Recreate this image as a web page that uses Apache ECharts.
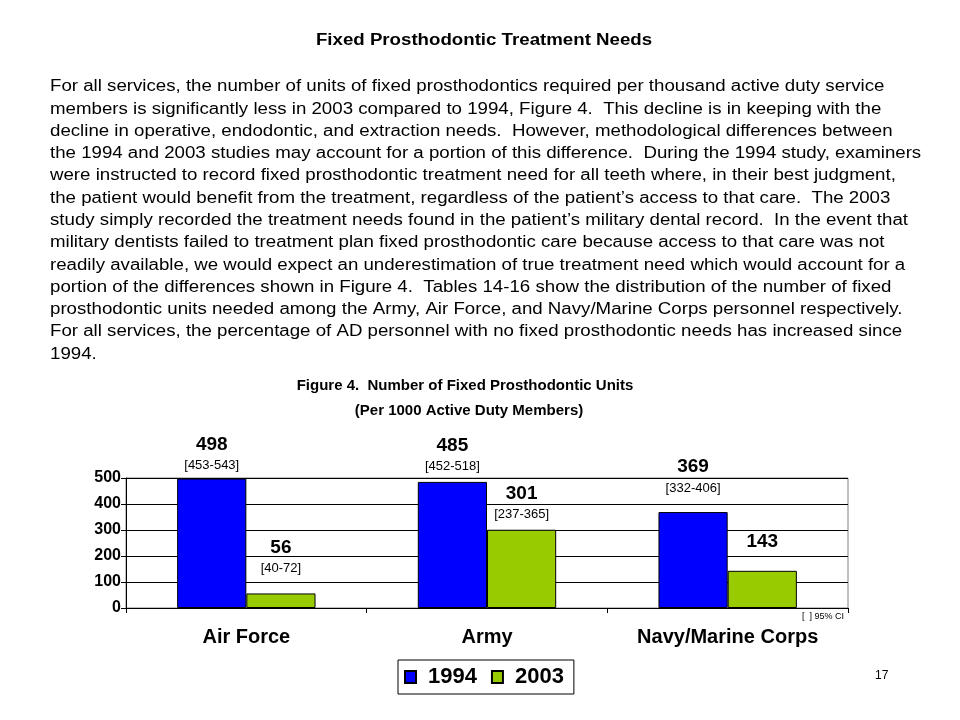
<!DOCTYPE html>
<html>
<head>
<meta charset="utf-8">
<script src="https://cdn.jsdelivr.net/npm/echarts@6/dist/echarts.min.js"></script>
<style>
html,body{margin:0;padding:0;background:#fff;}
#chart{width:960px;height:720px;}
</style>
</head>
<body>
<div id="chart"></div>
<script>
const categories = ['Air Force', 'Army', 'Navy/Marine Corps'];
const seriesNames = ['1994', '2003'];
const values1994 = [498, 485, 369];
const values2003 = [56, 301, 143];
const ci1994 = ['[453-543]', '[452-518]', '[332-406]'];
const ci2003 = ['[40-72]', '[237-365]', ''];
const yTicks = [0, 100, 200, 300, 400, 500];

const heading = 'Fixed Prosthodontic Treatment Needs';
const paragraph = [
  'For all services, the number of units of fixed prosthodontics required per thousand active duty service',
  'members is significantly less in 2003 compared to 1994, Figure 4.  This decline is in keeping with the',
  'decline in operative, endodontic, and extraction needs.  However, methodological differences between',
  'the 1994 and 2003 studies may account for a portion of this difference.  During the 1994 study, examiners',
  'were instructed to record fixed prosthodontic treatment need for all teeth where, in their best judgment,',
  'the patient would benefit from the treatment, regardless of the patient\u2019s access to that care.  The 2003',
  'study simply recorded the treatment needs found in the patient\u2019s military dental record.  In the event that',
  'military dentists failed to treatment plan fixed prosthodontic care because access to that care was not',
  'readily available, we would expect an underestimation of true treatment need which would account for a',
  'portion of the differences shown in Figure 4.  Tables 14-16 show the distribution of the number of fixed',
  'prosthodontic units needed among the Army, Air Force, and Navy/Marine Corps personnel respectively.',
  'For all services, the percentage of AD personnel with no fixed prosthodontic needs has increased since',
  '1994.'
];
const figTitle = 'Figure 4.  Number of Fixed Prosthodontic Units';
const figSubtitle = '(Per 1000 Active Duty Members)';
const ciNote = '[  ] 95% CI';
const pageNumber = '17';

// layout only: label lift above each bar (px)
const lift1994 = [5, 7, 16];
const lift2003 = [17, 7, 16];

const FONT = 'Liberation Sans, Arial, sans-serif';
const TEXT_STRETCH = 1.167;

function buildData(vals, cis, lifts) {
  return vals.map((v, i) => ({
    value: v,
    ci: cis[i],
    label: { distance: lifts[i] }
  }));
}

const labelCfg = {
  show: true,
  position: 'top',
  formatter: p => p.data.ci ? '{v|' + p.value + '}\n{c|' + p.data.ci + '}' : '{v|' + p.value + '}',
  rich: {
    v: { fontFamily: FONT, fontSize: 19, fontWeight: 'bold', color: '#000', lineHeight: 26, align: 'center' },
    c: { fontFamily: FONT, fontSize: 13, color: '#000', lineHeight: 16, align: 'center' }
  }
};

const graphics = [];
graphics.push({
  type: 'text', x: 484, y: 41, scaleX: TEXT_STRETCH,
  style: { text: heading, fontFamily: FONT, fontSize: 16, fontWeight: 'bold', fill: '#000',
           align: 'center', verticalAlign: 'middle' }
});
paragraph.forEach((line, i) => {
  graphics.push({
    type: 'text', x: 50, y: 87 + i * 22.27, scaleX: TEXT_STRETCH,
    style: { text: line, fontFamily: FONT, fontSize: 16, fill: '#000',
             align: 'left', verticalAlign: 'middle' }
  });
});
graphics.push({
  type: 'text', right: 116, top: 612,
  style: { text: ciNote, fontFamily: FONT, fontSize: 9, fill: '#000' }
});
graphics.push({
  type: 'text', left: 875, top: 670,
  style: { text: pageNumber, fontFamily: FONT, fontSize: 12, fill: '#000' }
});

const chart = echarts.init(document.getElementById('chart'), null, { renderer: 'canvas' });
chart.setOption({
  backgroundColor: '#fff',
  animation: false,
  title: [
    { text: figTitle, left: 460, textAlign: 'center', top: 373,
      textStyle: { fontFamily: FONT, fontSize: 15, fontWeight: 'bold', color: '#000' } },
    { text: figSubtitle, left: 464, textAlign: 'center', top: 398,
      textStyle: { fontFamily: FONT, fontSize: 15, fontWeight: 'bold', color: '#000' } }
  ],
  graphic: graphics,
  legend: {
    data: seriesNames,
    left: 398, top: 660,
    orient: 'horizontal',
    icon: 'rect',
    itemWidth: 11, itemHeight: 12, itemGap: 14,
    padding: [6, 10, 6, 6],
    borderColor: '#000', borderWidth: 1,
    textStyle: { fontFamily: FONT, fontSize: 22, fontWeight: 'bold', color: '#000', padding: [0, 0, 0, 7] }
  },
  grid: {
    left: 126, right: 112, top: 478, bottom: 112,
    show: true, borderColor: '#808080', borderWidth: 1, containLabel: false
  },
  xAxis: {
    type: 'category',
    data: categories,
    axisLine: { lineStyle: { color: '#000', width: 1 } },
    axisTick: { show: true, length: 5, lineStyle: { color: '#000' } },
    axisLabel: { fontFamily: FONT, fontSize: 20, fontWeight: 'bold', color: '#000', margin: 19 }
  },
  yAxis: {
    type: 'value',
    min: 0, max: 500, interval: 100,
    axisLine: { show: true, lineStyle: { color: '#000', width: 1 } },
    axisTick: { show: true, length: 5, lineStyle: { color: '#000' } },
    splitLine: { show: true, lineStyle: { color: '#000', width: 1 } },
    axisLabel: {
      fontFamily: FONT, fontSize: 16, fontWeight: 'bold', color: '#000', margin: 5,
      formatter: v => yTicks.includes(v) ? String(v) : ''
    }
  },
  series: [
    {
      name: seriesNames[0], type: 'bar',
      data: buildData(values1994, ci1994, lift1994),
      barWidth: '28.75%', barGap: '0%',
      itemStyle: { color: '#0000ff', borderColor: '#000', borderWidth: 1 },
      label: labelCfg
    },
    {
      name: seriesNames[1], type: 'bar',
      data: buildData(values2003, ci2003, lift2003),
      barWidth: '28.75%', barGap: '0%',
      itemStyle: { color: '#99cc00', borderColor: '#000', borderWidth: 1 },
      label: labelCfg
    }
  ]
});
</script>
</body>
</html>
